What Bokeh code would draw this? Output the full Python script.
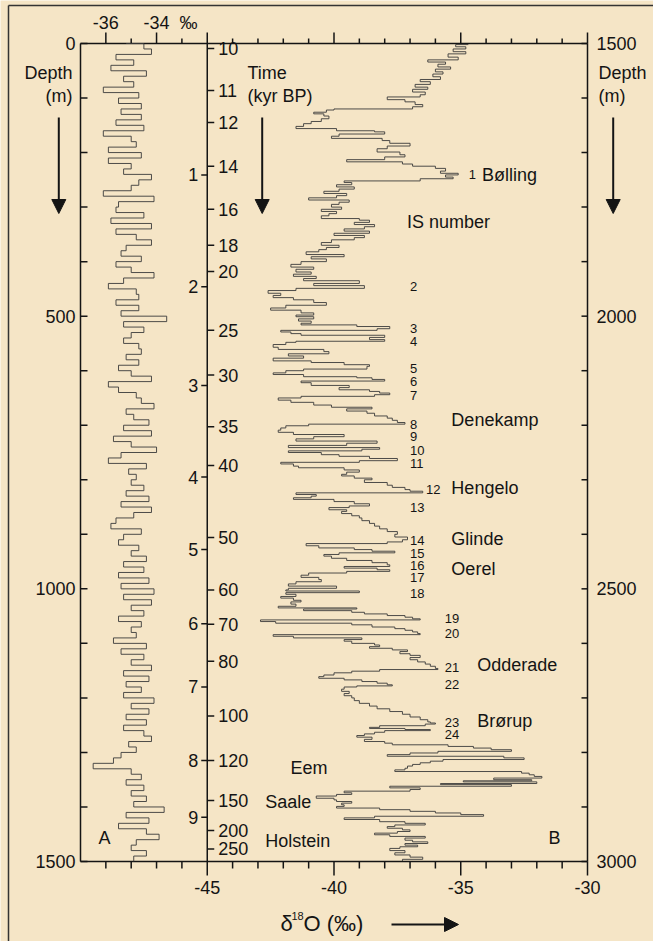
from bokeh.plotting import figure
from bokeh.models import Range1d, Arrow, NormalHead
from bokeh.core.properties import value
from bokeh.embed import file_html
from bokeh.resources import INLINE

# ---------------- data ----------------
# Panel A: shallow part of the core, depth 0-1500 m, d18O (permil)
a_depth = list(range(0, 1501, 10))
a_d18o = [
    -35.2, -34.5, -34.2, -35.6, -34.9, -35.8, -34.4, -35.3, -34.9, -36.1,
    -34.7, -35.5, -34.6, -35.4, -34.6, -35.6, -34.5, -36.1, -35.0, -34.8,
    -35.9, -34.6, -35.9, -35.0, -35.3, -34.2, -34.7, -35.0, -36.1, -34.1,
    -35.5, -35.6, -34.5, -35.8, -34.2, -35.6, -34.8, -34.2, -35.2, -35.4,
    -34.6, -35.6, -35.0, -34.1, -35.3, -35.9, -34.8, -34.7, -35.6, -34.7,
    -35.4, -33.6, -35.3, -34.5, -35.0, -35.3, -34.7, -34.6, -35.2, -34.7,
    -35.5, -35.0, -34.2, -35.9, -35.5, -34.8, -34.6, -34.1, -35.2, -34.9,
    -34.3, -35.3, -34.2, -35.7, -35.0,
    -34.0, -35.4, -35.9, -34.4, -35.1, -34.8, -35.0, -34.5, -35.2, -34.3,
    -35.4, -34.2, -34.9, -35.6, -35.8, -34.6, -35.3, -35.5, -34.7, -35.0,
    -34.4, -35.3, -34.5, -35.5, -34.3, -35.4, -34.1, -35.3, -34.2, -35.0,
    -34.5, -35.5, -34.6, -35.0, -34.8, -35.7, -34.4, -35.4, -34.5, -35.0,
    -34.2, -35.3, -34.3, -35.2, -34.6, -35.3, -34.1, -35.0, -34.3, -35.2,
    -34.4, -35.3, -34.5, -34.2, -35.1, -34.8, -35.4, -35.7, -36.5, -35.0,
    -34.6, -35.2, -34.5, -35.0, -34.4, -34.9, -33.7, -35.2, -34.3, -35.5,
    -34.4, -33.9, -34.8, -35.0, -34.4, -34.9,
]

# Panel B: deep part of the core, depth 1500-3000 m
b_depth = [
    1502, 1506, 1510, 1515, 1519, 1525, 1530, 1534, 1538, 1543,
    1547, 1552, 1556, 1561, 1566, 1570, 1575, 1580, 1584, 1589,
    1594, 1598, 1603, 1607, 1612, 1616, 1620, 1622, 1626, 1629,
    1633, 1638, 1643, 1647, 1652, 1656, 1660, 1662, 1666, 1670,
    1674, 1678, 1683, 1688, 1693, 1699, 1704, 1708, 1713, 1717,
    1721, 1725, 1729, 1734, 1738, 1741, 1745, 1748, 1752, 1755,
    1759, 1763, 1767, 1771, 1775, 1779, 1783, 1787, 1791, 1795,
    1800, 1804, 1808, 1812, 1816, 1821, 1824, 1828, 1832, 1836,
    1840, 1844, 1848, 1852, 1856, 1860, 1865, 1870, 1874, 1878,
    1882, 1887, 1891, 1895, 1900, 1905, 1910, 1914, 1919, 1923,
    1927, 1931, 1935, 1940, 1944, 1949, 1953, 1958, 1962, 1966,
    1970, 1975, 1980, 1985, 1989, 1994, 1998,
    2001, 2005, 2009, 2013, 2016, 2019, 2023, 2026, 2029, 2032,
    2035, 2039, 2043, 2046, 2048, 2052, 2057, 2061, 2065, 2069,
    2073, 2077, 2082, 2085, 2089, 2092, 2097, 2100, 2104, 2107,
    2111, 2113, 2116, 2119, 2122, 2127, 2131, 2135, 2138, 2141,
    2144, 2147, 2150, 2154, 2158, 2163, 2167, 2170, 2174, 2178,
    2183, 2187, 2191, 2195, 2198, 2201, 2205, 2209, 2213, 2217,
    2221, 2225, 2229, 2233, 2237, 2241, 2244, 2247, 2250, 2254,
    2257, 2261, 2265, 2268, 2271, 2275, 2278, 2282, 2286, 2290,
    2293, 2297, 2300, 2305, 2310, 2314, 2318, 2321, 2324, 2327,
    2330, 2333, 2336, 2340, 2344, 2348, 2351, 2355, 2358, 2362,
    2366, 2370, 2375, 2380, 2385, 2390, 2395, 2400, 2405, 2410,
    2414, 2417, 2421, 2425, 2428, 2431, 2434, 2437, 2440, 2444,
    2448, 2452, 2456, 2459, 2462, 2465, 2468, 2471, 2475, 2479,
    2483, 2487, 2491, 2495, 2499,
    2502, 2504, 2507, 2510, 2514, 2517, 2521, 2524, 2528, 2532,
    2535, 2537, 2540, 2543, 2546, 2549, 2552, 2555, 2557, 2560,
    2563, 2566, 2570, 2573, 2576, 2579, 2582, 2584, 2587, 2590,
    2593, 2596, 2600, 2603, 2606, 2609, 2612, 2615, 2619, 2622,
    2626, 2630, 2634, 2638, 2642, 2646, 2648, 2651, 2654, 2658,
    2661, 2664, 2667, 2670, 2673, 2676, 2678, 2680, 2684, 2688,
    2692, 2696, 2700, 2705, 2710, 2715, 2720, 2725, 2730, 2735,
    2740, 2744, 2746, 2748, 2751, 2754, 2756, 2758, 2760, 2763,
    2766, 2769, 2772, 2776, 2780, 2783, 2786, 2789, 2792, 2795,
    2798, 2801, 2804, 2807, 2810, 2813, 2816, 2819, 2822, 2825,
    2829, 2832, 2835, 2838, 2841, 2844, 2847, 2850, 2852, 2854,
    2857, 2859, 2862, 2865, 2868, 2871, 2874, 2877, 2880, 2884,
    2887, 2890, 2893, 2896, 2899, 2902, 2905, 2908, 2911, 2914,
    2917, 2920, 2923, 2927, 2930, 2933, 2936, 2939, 2942, 2945,
    2948, 2951, 2954, 2957, 2961, 2964, 2967, 2970, 2973, 2976,
    2980, 2984, 2988, 2992, 2996, 2999,
]
b_d18o = [
    -34.7, -35.2, -34.8, -35.3, -34.8, -35.5, -35.1, -36.3, -35.6, -35.9,
    -35.4, -36.0, -35.7, -36.1, -35.8, -36.6, -36.2, -36.8, -36.3, -36.9,
    -36.4, -36.6, -37.9, -37.2, -36.8, -36.5, -36.9, -40.0, -40.3, -40.8,
    -40.4, -40.2, -40.5, -40.9, -41.2, -41.5, -39.9, -38.4, -38.0, -39.8,
    -40.1, -38.1, -37.8, -37.0, -37.9, -38.3, -37.4, -37.2, -38.0, -39.5,
    -37.3, -36.9, -36.0, -35.6, -35.8, -35.1, -35.6, -35.3, -36.6, -39.6,
    -39.3, -39.9, -39.2, -39.8, -40.4, -39.5, -39.9, -41.0, -39.4, -39.8,
    -40.1, -39.7, -40.5, -39.9, -40.2, -40.5, -39.0, -38.6, -39.2, -38.4,
    -38.8, -39.6, -38.6, -40.0, -38.8, -39.2, -40.1, -40.5, -39.8, -40.3,
    -40.6, -41.1, -39.6, -40.9, -40.3, -41.3, -41.7, -40.8, -41.5, -40.9,
    -41.6, -40.7, -41.2, -39.0, -40.8, -38.8, -41.5, -42.6, -42.1, -42.4,
    -41.6, -40.8, -40.3, -41.9, -42.5, -41.3, -40.8,
    -41.5, -40.8, -41.4, -40.9, -41.3, -39.1, -37.8, -38.3, -42.1, -41.7,
    -41.3, -38.0, -38.6, -38.0, -41.5, -41.9, -42.4, -42.2, -40.4, -40.2,
    -41.8, -41.2, -42.4, -40.9, -39.6, -38.6, -38.7, -41.2, -41.9, -42.4,
    -41.2, -39.1, -38.5, -38.0, -41.3, -40.9, -39.4, -39.8, -38.6, -38.2,
    -37.8, -38.4, -41.3, -42.2, -41.7, -40.8, -40.1, -38.5, -39.5, -38.7,
    -38.4, -37.9, -37.7, -37.5, -37.2, -41.0, -41.9, -42.1, -42.2, -41.6,
    -39.6, -40.8, -41.5, -38.3, -39.5, -41.8, -38.2, -38.9, -41.8, -40.5,
    -39.8, -38.6, -37.5, -39.0, -42.1, -41.6, -41.4, -39.6, -39.0, -39.5,
    -39.7, -39.2, -38.5, -38.8, -37.9, -37.7, -37.2, -37.0, -36.5, -41.5,
    -40.7, -40.9, -41.6, -40.0, -39.2, -38.6, -39.4, -40.2, -39.5, -39.7,
    -39.3, -39.0, -38.9, -38.6, -38.4, -38.2, -37.9, -37.5, -37.6, -37.1,
    -37.3, -37.9, -41.1, -40.6, -39.2, -38.5, -37.6, -39.8, -40.4, -40.1,
    -39.5, -38.5, -37.9, -37.8, -39.6, -38.3, -37.8, -39.5, -41.0, -41.3,
    -40.6, -40.5, -41.5, -41.8, -39.9,
    -41.8, -41.9, -39.0, -41.9, -41.5, -42.1, -41.6, -41.3, -41.7, -41.5,
    -42.2, -39.1, -41.2, -39.3, -38.8, -37.9, -37.2, -36.9, -36.6, -42.9,
    -42.3, -39.3, -38.5, -37.6, -37.2, -36.9, -36.7, -36.6, -42.4, -41.6,
    -38.9, -39.6, -39.3, -38.4, -38.2, -38.6, -37.7, -37.1, -37.4, -37.0,
    -36.6, -37.0, -36.7, -36.4, -36.2, -36.0, -35.9, -38.2, -39.3, -40.0,
    -40.4, -40.6, -39.6, -38.9, -38.3, -37.9, -37.7, -39.1, -39.6, -39.7,
    -39.4, -39.6, -39.3, -39.2, -39.0, -38.6, -38.3, -37.8, -37.3, -37.0,
    -36.6, -36.3, -36.2, -36.0, -36.4, -38.2, -38.6, -37.2, -36.2, -38.0,
    -38.4, -38.8, -39.1, -38.5, -38.8, -38.0, -37.7, -35.5, -34.5, -33.8,
    -33.0, -35.9, -37.0, -37.9, -33.3, -32.5, -35.7, -36.2, -36.6, -36.9,
    -37.1, -37.2, -37.6, -32.6, -32.3, -32.1, -31.8, -33.7, -32.2, -34.9,
    -32.0, -35.8, -33.0, -37.8, -36.6, -37.0, -39.6, -39.3, -39.9, -40.7,
    -40.0, -39.9, -39.3, -39.7, -39.6, -39.9, -38.2, -37.0, -36.0, -35.0,
    -34.1, -38.4, -39.6, -38.2, -37.2, -36.4, -37.6, -37.9, -37.3, -37.0,
    -37.5, -38.4, -37.8, -36.4, -37.2, -36.9, -36.3, -37.2, -36.7, -37.4,
    -37.8, -37.2, -37.6, -37.0, -36.5, -37.3,
]

# axis ticks
a_top_ticks = [-36, -34]                      # labelled top ticks of panel A (permil)
b_bottom_ticks = [-45, -40, -35, -30]         # labelled bottom ticks of panel B (permil)
a_depth_ticks = [0, 500, 1000, 1500]          # left axis (m)
b_depth_ticks = [1500, 2000, 2500, 3000]      # right axis (m)

# Time scale (kyr BP) marked on the inner axis, at core depth (m)
time_labels = ["10", "11", "12", "14", "16", "18", "20", "25", "30", "35",
               "40", "50", "60", "70", "80", "100", "120", "150", "200", "250"]
time_depth = [1509, 1586, 1645, 1725, 1804, 1870, 1918, 2026, 2108, 2203,
              2274, 2406, 2502, 2565, 2633, 2733, 2815, 2888, 2943, 2977]

# Inner-axis numbers 1..9
inner_labels = ["1", "2", "3", "4", "5", "6", "7", "8", "9"]
inner_depth = [1741, 1946, 2127, 2295, 2428, 2564, 2680, 2815, 2919]

# Interstadial (IS) numbers and the depth they mark
is_labels = [str(i) for i in range(1, 25)]
is_depth = [1741, 1946, 2023, 2047, 2096, 2120, 2145, 2198, 2221, 2247,
            2270, 2317, 2351, 2412, 2435, 2458, 2480, 2508, 2555, 2582,
            2644, 2675, 2745, 2768]
# layout: left x of each IS label (permil axis of panel B)
is_x = [-34.68, -37.0, -37.0, -37.0, -37.0, -37.0, -37.0, -37.0, -37.0, -37.0,
        -37.0, -36.37, -37.0, -37.0, -37.0, -37.0, -37.0, -37.0, -35.63, -35.63,
        -35.63, -35.63, -35.63, -35.63]

period_names = ["Bølling", "IS number", "Denekamp", "Hengelo", "Glinde", "Oerel",
                "Odderade", "Brørup", "Eem", "Saale", "Holstein"]
period_depth = [1741, 1827, 2190, 2315, 2409, 2464, 2639, 2743, 2829, 2890, 2963]
period_x = [-34.16, -37.12, -35.37, -35.37, -35.37, -35.37, -34.35, -34.35,
            -41.72, -42.71, -42.71]

# ---------------- layout / style ----------------
W, H = 653, 941
PX_L, PX_R, PX_T, PX_B = 80, 587, 43, 861      # plotting box, canvas pixels
kx = (PX_R - PX_L) / 20.0                      # px per permil
ky = (PX_B - PX_T) / 1500.0                    # px per metre

BG = "#f5e5c6"
INK = "#141414"
TRACE = "#3a3a3a"
FONT = "Liberation Sans"


def xrange_from(left_val):
    return Range1d(left_val - PX_L / kx, left_val + (W - PX_L) / kx)


def yrange_from(top_val):
    return Range1d(top_val + 1500 + (H - PX_B) / ky, top_val - PX_T / ky)


def cx(px):   # canvas px -> panel-B permil
    return -50 + (px - PX_L) / kx


def cy(py):   # canvas px -> panel-A depth
    return (py - PX_T) / ky


p = figure(width=W, height=H, x_range=xrange_from(-50), y_range=yrange_from(0),
           output_backend="svg", toolbar_location=None, min_border=0,
           x_axis_location=None, y_axis_location=None,
           background_fill_color=BG, border_fill_color=BG, outline_line_color=None)
p.extra_x_ranges = {"A": xrange_from(-37)}
p.extra_y_ranges = {"B": yrange_from(1500)}
p.grid.visible = False

LW = 1.5

# outer frame (top and left edges visible)
p.segment(x0=[cx(8), cx(8)], y0=[cy(5), cy(5)], x1=[cx(W + 10), cx(8)], y1=[cy(5), cy(H + 10)],
          line_color="#333333", line_width=1.5)

# plotting box and panel divider
p.segment(x0=[-50, -30, -50, -50, -45], y0=[0, 0, 0, 1500, 0],
          x1=[-50, -30, -30, -30, -45], y1=[1500, 1500, 0, 1500, 1500],
          line_color=INK, line_width=LW)

# top & bottom ticks (every 1 permil)
ints = list(range(-49, -29))
top_long = [-49, -47, -45, -40, -35, -30]
tl = [11 if t in top_long else 5 for t in ints]
p.segment(x0=ints, y0=[0] * len(ints), x1=ints, y1=[-l / ky for l in tl],
          line_color=INK, line_width=LW)
bl = [14 if t in b_bottom_ticks else 7 for t in ints]
p.segment(x0=ints, y0=[1500] * len(ints), x1=ints, y1=[1500 + l / ky for l in bl],
          line_color=INK, line_width=LW)

# left & right ticks (every 100 m, inward)
ld = list(range(0, 1501, 100))
p.segment(x0=[-50] * len(ld), y0=ld, x1=[-50 + 7 / kx] * len(ld), y1=ld,
          line_color=INK, line_width=LW)
rd = list(range(1500, 3001, 100))
p.segment(x0=[-30] * len(rd), y0=rd, x1=[-30 - 6 / kx] * len(rd), y1=rd,
          line_color=INK, line_width=LW, y_range_name="B")

TXT = dict(text_font=value(FONT), text_color=INK)

# tick labels
p.text(x=a_top_ticks, y=cy(22), text=[str(t) for t in a_top_ticks], x_range_name="A",
       text_align="center", text_baseline="middle", text_font_size="18px", **TXT)
p.text(x=[cx(188)], y=[cy(22)], text=["‰"], text_align="center", text_baseline="middle",
       text_font_size="18px", **TXT)
p.text(x=b_bottom_ticks, y=cy(887), text=[str(t) for t in b_bottom_ticks],
       text_align="center", text_baseline="middle", text_font_size="18px", **TXT)
p.text(x=-50, y=a_depth_ticks, text=[str(t) for t in a_depth_ticks], x_offset=-5,
       text_align="right", text_baseline="middle", text_font_size="18px", **TXT)
p.text(x=-30, y=b_depth_ticks, text=[str(t) for t in b_depth_ticks], x_offset=9,
       text_align="left", text_baseline="middle", text_font_size="18px",
       y_range_name="B", **TXT)

# records
p.step(x=a_d18o, y=a_depth, mode="after", x_range_name="A",
       line_color=TRACE, line_width=0.9)
p.step(x=b_d18o, y=b_depth, mode="after", y_range_name="B",
       line_color=TRACE, line_width=0.9)

# inner axis: time scale (right) and numbers (left)
p.segment(x0=-45, y0=time_depth, x1=-45 + 7 / kx, y1=time_depth,
          line_color=INK, line_width=LW, y_range_name="B")
p.text(x=-45, y=time_depth, text=time_labels, x_offset=11, text_align="left",
       text_baseline="middle", text_font_size="18px", y_range_name="B", **TXT)
p.segment(x0=-45, y0=inner_depth, x1=-45 - 6 / kx, y1=inner_depth,
          line_color=INK, line_width=LW, y_range_name="B")
p.text(x=-45, y=inner_depth, text=inner_labels, x_offset=-9, text_align="right",
       text_baseline="middle", text_font_size="18px", y_range_name="B", **TXT)

# IS numbers and period names
p.text(x=is_x, y=is_depth, text=is_labels, text_align="left", text_baseline="middle",
       text_font_size="13px", y_range_name="B", **TXT)
p.text(x=period_x, y=period_depth, text=period_names, text_align="left",
       text_baseline="middle", text_font_size="18px", y_range_name="B", **TXT)

# other texts
p.text(x=[cx(72), cx(72)], y=[cy(72), cy(95)], text=["Depth", "(m)"], text_align="right",
       text_baseline="middle", text_font_size="18px", **TXT)
p.text(x=[cx(598), cx(598)], y=[cy(72), cy(95)], text=["Depth", "(m)"], text_align="left",
       text_baseline="middle", text_font_size="18px", **TXT)
p.text(x=[cx(247), cx(247)], y=[cy(72), cy(95)], text=["Time", "(kyr BP)"],
       text_align="left", text_baseline="middle", text_font_size="18px", **TXT)
p.text(x=[cx(98), cx(548)], y=[cy(837), cy(837)], text=["A", "B"], text_align="left",
       text_baseline="middle", text_font_size="18px", **TXT)
p.text(x=[cx(280), cx(303)], y=[cy(923), cy(923)], text=["δ", "O (‰)"], text_align="left",
       text_baseline="middle", text_font_size="22px", **TXT)
p.text(x=[cx(291)], y=[cy(915)], text=["18"], text_align="left",
       text_baseline="middle", text_font_size="11px", **TXT)

# arrows
for ax_px in (58.3, 261.7, 612.7):
    p.add_layout(Arrow(end=NormalHead(size=14, fill_color=INK, line_color=INK),
                       x_start=cx(ax_px), y_start=cy(117), x_end=cx(ax_px), y_end=cy(213),
                       line_color=INK, line_width=2))
p.add_layout(Arrow(end=NormalHead(size=14, fill_color=INK, line_color=INK),
                   x_start=cx(391), y_start=cy(924), x_end=cx(458), y_end=cy(924),
                   line_color=INK, line_width=2))

open("out.html", "w").write(file_html(p, INLINE))
